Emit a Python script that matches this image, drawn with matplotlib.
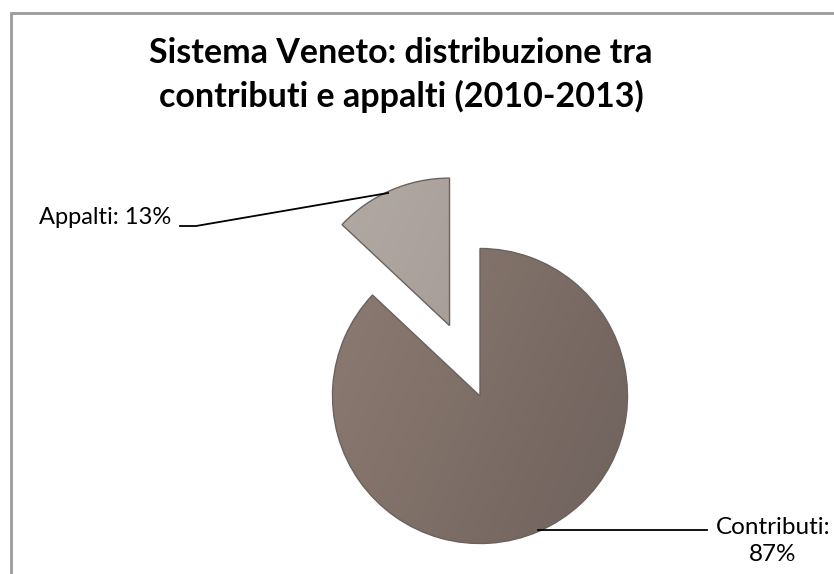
import numpy as np
import matplotlib
matplotlib.use("Agg")
import matplotlib.pyplot as plt
from matplotlib.colors import LinearSegmentedColormap
from matplotlib.patches import Rectangle

labels = ["Contributi", "Appalti"]
values = [87, 13]
explode = [0, 0.52]
colors = ["#7f6f67", "#aca19b"]
# light / dark ends of the gradient for each slice
grad_colors = [("#8c7b72", "#6f625c"), ("#b5aba5", "#9d938e")]
title = "Sistema Veneto: distribuzione tra\ncontributi e appalti (2010-2013)"

W, H = 834, 574
R = 147.5            # pie radius in pixels
cx, cy = 480, 178    # pie centre in pixels (from bottom-left)

fig = plt.figure(figsize=(W / 100, H / 100), dpi=100)
ax = fig.add_axes([0, 0, 1, 1])
ax.axis("off")

# chart area border (runs off the right/bottom edge)
fig.patches.append(Rectangle((11 / W, -0.1), 1.2, (H - 13) / H + 0.1,
                             transform=fig.transFigure, fill=False,
                             edgecolor="#9a9a9a", linewidth=2))

wedges, _ = ax.pie(values, explode=explode, colors=colors, startangle=90,
                   counterclock=False, radius=1,
                   wedgeprops=dict(edgecolor="#6a625e", linewidth=1))

# gradient fill clipped to each wedge
for w, (c0, c1) in zip(wedges, grad_colors):
    cmap = LinearSegmentedColormap.from_list("g", [c0, c1])
    xs, ys = w.center
    g = np.linspace(0, 1, 200)
    grad = np.add.outer(g * 0.3, g * 0.7)
    im = ax.imshow(grad, cmap=cmap, extent=(xs - 1, xs + 1, ys - 1, ys + 1),
                   origin="upper", zorder=w.get_zorder() + 0.1)
    im.set_clip_path(w)
    w.set_zorder(w.get_zorder() + 0.2)
    w.set_facecolor("none")

ax.set_xlim(-cx / R, (W - cx) / R)
ax.set_ylim(-cy / R, (H - cy) / R)
ax.set_aspect("auto")

def px(x, y):
    # pixel coords (from top-left) to data coords
    return (x - cx) / R, ((H - y) - cy) / R

# leader lines
pts = [px(180, 226), px(196, 226), px(388, 193)]
ax.plot([p[0] for p in pts], [p[1] for p in pts], color="black",
        linewidth=1.3, zorder=5)
pts = [px(538, 530), px(707, 530)]
ax.plot([p[0] for p in pts], [p[1] for p in pts], color="black",
        linewidth=1.3, zorder=5)

font = "Lato"
ax.text(*px(39, 218), f"{labels[1]}: {values[1]}%", fontsize=17,
        family=font, ha="left", va="center")
ax.text(*px(773, 541), f"{labels[0]}:\n{values[0]}%", fontsize=17.5,
        family=font, ha="center", va="center", linespacing=1.4)

fig.text(401 / W, 1 - 75 / H, title, fontsize=24.5, fontweight="bold",
         family=font, ha="center", va="center", linespacing=1.38)

fig.savefig("out.png", dpi=100)
